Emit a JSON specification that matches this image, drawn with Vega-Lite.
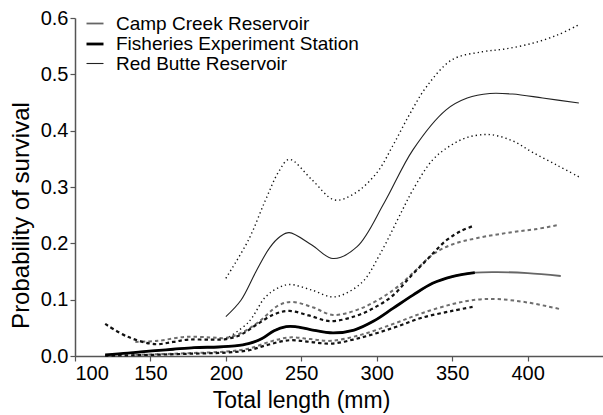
{
  "$schema": "https://vega.github.io/schema/vega-lite/v6.json",
  "width": 528,
  "height": 338,
  "autosize": {"type": "none"},
  "padding": {"left": 75, "top": 18, "right": 0, "bottom": 59},
  "background": "white",
  "config": {
    "font": "Liberation Sans",
    "view": {"stroke": null},
    "axis": {"domainColor": "#555", "tickColor": "#555", "domainWidth": 1.5, "tickWidth": 1.2, "tickSize": 5, "labelColor": "#000", "titleColor": "#000", "grid": false, "labelFontSize": 20, "titleFontWeight": "normal"}
  },
  "datasets": {
    "curves": [
      {"site": "Camp Creek Reservoir", "band": "est", "length": 140, "prob": 0.007},
      {"site": "Camp Creek Reservoir", "band": "est", "length": 151, "prob": 0.009},
      {"site": "Camp Creek Reservoir", "band": "est", "length": 165, "prob": 0.012},
      {"site": "Camp Creek Reservoir", "band": "est", "length": 179, "prob": 0.015},
      {"site": "Camp Creek Reservoir", "band": "est", "length": 195, "prob": 0.016},
      {"site": "Camp Creek Reservoir", "band": "est", "length": 206, "prob": 0.018},
      {"site": "Camp Creek Reservoir", "band": "est", "length": 215, "prob": 0.022},
      {"site": "Camp Creek Reservoir", "band": "est", "length": 224, "prob": 0.031},
      {"site": "Camp Creek Reservoir", "band": "est", "length": 232, "prob": 0.045},
      {"site": "Camp Creek Reservoir", "band": "est", "length": 240, "prob": 0.052},
      {"site": "Camp Creek Reservoir", "band": "est", "length": 246, "prob": 0.052},
      {"site": "Camp Creek Reservoir", "band": "est", "length": 256, "prob": 0.047},
      {"site": "Camp Creek Reservoir", "band": "est", "length": 271, "prob": 0.041},
      {"site": "Camp Creek Reservoir", "band": "est", "length": 285, "prob": 0.046},
      {"site": "Camp Creek Reservoir", "band": "est", "length": 298, "prob": 0.062},
      {"site": "Camp Creek Reservoir", "band": "est", "length": 311, "prob": 0.085},
      {"site": "Camp Creek Reservoir", "band": "est", "length": 324, "prob": 0.108},
      {"site": "Camp Creek Reservoir", "band": "est", "length": 337, "prob": 0.129},
      {"site": "Camp Creek Reservoir", "band": "est", "length": 350, "prob": 0.141},
      {"site": "Camp Creek Reservoir", "band": "est", "length": 365, "prob": 0.148},
      {"site": "Camp Creek Reservoir", "band": "est", "length": 380, "prob": 0.149},
      {"site": "Camp Creek Reservoir", "band": "est", "length": 400, "prob": 0.147},
      {"site": "Camp Creek Reservoir", "band": "est", "length": 422, "prob": 0.142},

      {"site": "Camp Creek Reservoir", "band": "hi", "length": 140, "prob": 0.025},
      {"site": "Camp Creek Reservoir", "band": "hi", "length": 155, "prob": 0.027},
      {"site": "Camp Creek Reservoir", "band": "hi", "length": 173, "prob": 0.034},
      {"site": "Camp Creek Reservoir", "band": "hi", "length": 190, "prob": 0.033},
      {"site": "Camp Creek Reservoir", "band": "hi", "length": 200, "prob": 0.032},
      {"site": "Camp Creek Reservoir", "band": "hi", "length": 211, "prob": 0.042},
      {"site": "Camp Creek Reservoir", "band": "hi", "length": 222, "prob": 0.061},
      {"site": "Camp Creek Reservoir", "band": "hi", "length": 235, "prob": 0.090},
      {"site": "Camp Creek Reservoir", "band": "hi", "length": 244, "prob": 0.096},
      {"site": "Camp Creek Reservoir", "band": "hi", "length": 258, "prob": 0.086},
      {"site": "Camp Creek Reservoir", "band": "hi", "length": 271, "prob": 0.073},
      {"site": "Camp Creek Reservoir", "band": "hi", "length": 290, "prob": 0.085},
      {"site": "Camp Creek Reservoir", "band": "hi", "length": 311, "prob": 0.117},
      {"site": "Camp Creek Reservoir", "band": "hi", "length": 325, "prob": 0.150},
      {"site": "Camp Creek Reservoir", "band": "hi", "length": 337, "prob": 0.180},
      {"site": "Camp Creek Reservoir", "band": "hi", "length": 350, "prob": 0.198},
      {"site": "Camp Creek Reservoir", "band": "hi", "length": 366, "prob": 0.209},
      {"site": "Camp Creek Reservoir", "band": "hi", "length": 390, "prob": 0.220},
      {"site": "Camp Creek Reservoir", "band": "hi", "length": 405, "prob": 0.225},
      {"site": "Camp Creek Reservoir", "band": "hi", "length": 421, "prob": 0.233},

      {"site": "Camp Creek Reservoir", "band": "lo", "length": 140, "prob": 0.002},
      {"site": "Camp Creek Reservoir", "band": "lo", "length": 175, "prob": 0.005},
      {"site": "Camp Creek Reservoir", "band": "lo", "length": 200, "prob": 0.008},
      {"site": "Camp Creek Reservoir", "band": "lo", "length": 215, "prob": 0.013},
      {"site": "Camp Creek Reservoir", "band": "lo", "length": 230, "prob": 0.026},
      {"site": "Camp Creek Reservoir", "band": "lo", "length": 242, "prob": 0.033},
      {"site": "Camp Creek Reservoir", "band": "lo", "length": 256, "prob": 0.030},
      {"site": "Camp Creek Reservoir", "band": "lo", "length": 270, "prob": 0.027},
      {"site": "Camp Creek Reservoir", "band": "lo", "length": 290, "prob": 0.038},
      {"site": "Camp Creek Reservoir", "band": "lo", "length": 311, "prob": 0.057},
      {"site": "Camp Creek Reservoir", "band": "lo", "length": 330, "prob": 0.076},
      {"site": "Camp Creek Reservoir", "band": "lo", "length": 350, "prob": 0.092},
      {"site": "Camp Creek Reservoir", "band": "lo", "length": 366, "prob": 0.100},
      {"site": "Camp Creek Reservoir", "band": "lo", "length": 380, "prob": 0.101},
      {"site": "Camp Creek Reservoir", "band": "lo", "length": 400, "prob": 0.095},
      {"site": "Camp Creek Reservoir", "band": "lo", "length": 422, "prob": 0.083},

      {"site": "Fisheries Experiment Station", "band": "est", "length": 120, "prob": 0.002},
      {"site": "Fisheries Experiment Station", "band": "est", "length": 135, "prob": 0.005},
      {"site": "Fisheries Experiment Station", "band": "est", "length": 151, "prob": 0.009},
      {"site": "Fisheries Experiment Station", "band": "est", "length": 165, "prob": 0.012},
      {"site": "Fisheries Experiment Station", "band": "est", "length": 179, "prob": 0.015},
      {"site": "Fisheries Experiment Station", "band": "est", "length": 195, "prob": 0.016},
      {"site": "Fisheries Experiment Station", "band": "est", "length": 206, "prob": 0.018},
      {"site": "Fisheries Experiment Station", "band": "est", "length": 215, "prob": 0.022},
      {"site": "Fisheries Experiment Station", "band": "est", "length": 224, "prob": 0.031},
      {"site": "Fisheries Experiment Station", "band": "est", "length": 232, "prob": 0.045},
      {"site": "Fisheries Experiment Station", "band": "est", "length": 240, "prob": 0.052},
      {"site": "Fisheries Experiment Station", "band": "est", "length": 246, "prob": 0.052},
      {"site": "Fisheries Experiment Station", "band": "est", "length": 256, "prob": 0.047},
      {"site": "Fisheries Experiment Station", "band": "est", "length": 271, "prob": 0.041},
      {"site": "Fisheries Experiment Station", "band": "est", "length": 285, "prob": 0.046},
      {"site": "Fisheries Experiment Station", "band": "est", "length": 298, "prob": 0.062},
      {"site": "Fisheries Experiment Station", "band": "est", "length": 311, "prob": 0.085},
      {"site": "Fisheries Experiment Station", "band": "est", "length": 324, "prob": 0.108},
      {"site": "Fisheries Experiment Station", "band": "est", "length": 337, "prob": 0.129},
      {"site": "Fisheries Experiment Station", "band": "est", "length": 350, "prob": 0.141},
      {"site": "Fisheries Experiment Station", "band": "est", "length": 365, "prob": 0.148},

      {"site": "Fisheries Experiment Station", "band": "hi", "length": 120, "prob": 0.057},
      {"site": "Fisheries Experiment Station", "band": "hi", "length": 135, "prob": 0.034},
      {"site": "Fisheries Experiment Station", "band": "hi", "length": 153, "prob": 0.021},
      {"site": "Fisheries Experiment Station", "band": "hi", "length": 165, "prob": 0.025},
      {"site": "Fisheries Experiment Station", "band": "hi", "length": 175, "prob": 0.029},
      {"site": "Fisheries Experiment Station", "band": "hi", "length": 190, "prob": 0.029},
      {"site": "Fisheries Experiment Station", "band": "hi", "length": 200, "prob": 0.030},
      {"site": "Fisheries Experiment Station", "band": "hi", "length": 210, "prob": 0.038},
      {"site": "Fisheries Experiment Station", "band": "hi", "length": 220, "prob": 0.055},
      {"site": "Fisheries Experiment Station", "band": "hi", "length": 232, "prob": 0.074},
      {"site": "Fisheries Experiment Station", "band": "hi", "length": 242, "prob": 0.080},
      {"site": "Fisheries Experiment Station", "band": "hi", "length": 255, "prob": 0.072},
      {"site": "Fisheries Experiment Station", "band": "hi", "length": 269, "prob": 0.062},
      {"site": "Fisheries Experiment Station", "band": "hi", "length": 285, "prob": 0.070},
      {"site": "Fisheries Experiment Station", "band": "hi", "length": 298, "prob": 0.085},
      {"site": "Fisheries Experiment Station", "band": "hi", "length": 311, "prob": 0.108},
      {"site": "Fisheries Experiment Station", "band": "hi", "length": 322, "prob": 0.140},
      {"site": "Fisheries Experiment Station", "band": "hi", "length": 333, "prob": 0.170},
      {"site": "Fisheries Experiment Station", "band": "hi", "length": 346, "prob": 0.205},
      {"site": "Fisheries Experiment Station", "band": "hi", "length": 356, "prob": 0.222},
      {"site": "Fisheries Experiment Station", "band": "hi", "length": 364, "prob": 0.231},

      {"site": "Fisheries Experiment Station", "band": "lo", "length": 120, "prob": 0.0005},
      {"site": "Fisheries Experiment Station", "band": "lo", "length": 150, "prob": 0.002},
      {"site": "Fisheries Experiment Station", "band": "lo", "length": 175, "prob": 0.004},
      {"site": "Fisheries Experiment Station", "band": "lo", "length": 200, "prob": 0.006},
      {"site": "Fisheries Experiment Station", "band": "lo", "length": 215, "prob": 0.010},
      {"site": "Fisheries Experiment Station", "band": "lo", "length": 228, "prob": 0.020},
      {"site": "Fisheries Experiment Station", "band": "lo", "length": 242, "prob": 0.028},
      {"site": "Fisheries Experiment Station", "band": "lo", "length": 256, "prob": 0.025},
      {"site": "Fisheries Experiment Station", "band": "lo", "length": 270, "prob": 0.022},
      {"site": "Fisheries Experiment Station", "band": "lo", "length": 290, "prob": 0.033},
      {"site": "Fisheries Experiment Station", "band": "lo", "length": 311, "prob": 0.050},
      {"site": "Fisheries Experiment Station", "band": "lo", "length": 330, "prob": 0.068},
      {"site": "Fisheries Experiment Station", "band": "lo", "length": 350, "prob": 0.080},
      {"site": "Fisheries Experiment Station", "band": "lo", "length": 365, "prob": 0.088},

      {"site": "Red Butte Reservoir", "band": "est", "length": 200, "prob": 0.070},
      {"site": "Red Butte Reservoir", "band": "est", "length": 210, "prob": 0.099},
      {"site": "Red Butte Reservoir", "band": "est", "length": 220, "prob": 0.150},
      {"site": "Red Butte Reservoir", "band": "est", "length": 229, "prob": 0.192},
      {"site": "Red Butte Reservoir", "band": "est", "length": 236, "prob": 0.212},
      {"site": "Red Butte Reservoir", "band": "est", "length": 242, "prob": 0.219},
      {"site": "Red Butte Reservoir", "band": "est", "length": 257, "prob": 0.197},
      {"site": "Red Butte Reservoir", "band": "est", "length": 271, "prob": 0.173},
      {"site": "Red Butte Reservoir", "band": "est", "length": 287, "prob": 0.194},
      {"site": "Red Butte Reservoir", "band": "est", "length": 305, "prob": 0.272},
      {"site": "Red Butte Reservoir", "band": "est", "length": 324, "prob": 0.366},
      {"site": "Red Butte Reservoir", "band": "est", "length": 346, "prob": 0.437},
      {"site": "Red Butte Reservoir", "band": "est", "length": 360, "prob": 0.458},
      {"site": "Red Butte Reservoir", "band": "est", "length": 375, "prob": 0.466},
      {"site": "Red Butte Reservoir", "band": "est", "length": 390, "prob": 0.465},
      {"site": "Red Butte Reservoir", "band": "est", "length": 410, "prob": 0.458},
      {"site": "Red Butte Reservoir", "band": "est", "length": 434, "prob": 0.449},

      {"site": "Red Butte Reservoir", "band": "hi", "length": 200, "prob": 0.138},
      {"site": "Red Butte Reservoir", "band": "hi", "length": 215, "prob": 0.206},
      {"site": "Red Butte Reservoir", "band": "hi", "length": 226, "prob": 0.275},
      {"site": "Red Butte Reservoir", "band": "hi", "length": 235, "prob": 0.327},
      {"site": "Red Butte Reservoir", "band": "hi", "length": 242, "prob": 0.349},
      {"site": "Red Butte Reservoir", "band": "hi", "length": 257, "prob": 0.313},
      {"site": "Red Butte Reservoir", "band": "hi", "length": 272, "prob": 0.277},
      {"site": "Red Butte Reservoir", "band": "hi", "length": 285, "prob": 0.288},
      {"site": "Red Butte Reservoir", "band": "hi", "length": 300, "prob": 0.325},
      {"site": "Red Butte Reservoir", "band": "hi", "length": 311, "prob": 0.375},
      {"site": "Red Butte Reservoir", "band": "hi", "length": 322, "prob": 0.430},
      {"site": "Red Butte Reservoir", "band": "hi", "length": 333, "prob": 0.478},
      {"site": "Red Butte Reservoir", "band": "hi", "length": 350, "prob": 0.526},
      {"site": "Red Butte Reservoir", "band": "hi", "length": 370, "prob": 0.540},
      {"site": "Red Butte Reservoir", "band": "hi", "length": 385, "prob": 0.545},
      {"site": "Red Butte Reservoir", "band": "hi", "length": 403, "prob": 0.555},
      {"site": "Red Butte Reservoir", "band": "hi", "length": 420, "prob": 0.570},
      {"site": "Red Butte Reservoir", "band": "hi", "length": 434, "prob": 0.588},

      {"site": "Red Butte Reservoir", "band": "lo", "length": 200, "prob": 0.030},
      {"site": "Red Butte Reservoir", "band": "lo", "length": 215, "prob": 0.060},
      {"site": "Red Butte Reservoir", "band": "lo", "length": 226, "prob": 0.104},
      {"site": "Red Butte Reservoir", "band": "lo", "length": 234, "prob": 0.120},
      {"site": "Red Butte Reservoir", "band": "lo", "length": 242, "prob": 0.127},
      {"site": "Red Butte Reservoir", "band": "lo", "length": 257, "prob": 0.117},
      {"site": "Red Butte Reservoir", "band": "lo", "length": 272, "prob": 0.105},
      {"site": "Red Butte Reservoir", "band": "lo", "length": 290, "prob": 0.130},
      {"site": "Red Butte Reservoir", "band": "lo", "length": 302, "prob": 0.180},
      {"site": "Red Butte Reservoir", "band": "lo", "length": 317, "prob": 0.259},
      {"site": "Red Butte Reservoir", "band": "lo", "length": 324, "prob": 0.295},
      {"site": "Red Butte Reservoir", "band": "lo", "length": 337, "prob": 0.348},
      {"site": "Red Butte Reservoir", "band": "lo", "length": 348, "prob": 0.372},
      {"site": "Red Butte Reservoir", "band": "lo", "length": 360, "prob": 0.388},
      {"site": "Red Butte Reservoir", "band": "lo", "length": 375, "prob": 0.393},
      {"site": "Red Butte Reservoir", "band": "lo", "length": 390, "prob": 0.382},
      {"site": "Red Butte Reservoir", "band": "lo", "length": 403, "prob": 0.362},
      {"site": "Red Butte Reservoir", "band": "lo", "length": 420, "prob": 0.338},
      {"site": "Red Butte Reservoir", "band": "lo", "length": 434, "prob": 0.318}
    ]
  },
  "data": {"name": "curves"},
  "encoding": {
    "x": {"field": "length", "type": "quantitative", "scale": {"domain": [100, 450], "nice": false}, "axis": {"values": [100, 150, 200, 250, 300, 350, 400], "title": "Total length (mm)", "titleFontSize": 23, "titleX": 226, "titleY": 51, "titleBaseline": "alphabetic", "labelPadding": 2}},
    "y": {"field": "prob", "type": "quantitative", "scale": {"domain": [0, 0.6], "nice": false}, "axis": {"values": [0, 0.1, 0.2, 0.3, 0.4, 0.5, 0.6], "format": ".1f", "title": "Probability of survival", "titleFontSize": 24, "titleX": -54, "titleY": 197, "titleAngle": -90, "titleAlign": "center", "titleBaseline": "middle", "labelPadding": 2}}
  },
  "layer": [
    {
      "transform": [{"filter": "datum.site === 'Camp Creek Reservoir' && datum.band !== 'est'"}],
      "mark": {"type": "line", "interpolate": "catmull-rom", "color": "#6e6e6e", "strokeWidth": 2, "strokeDash": [3.5, 3]},
      "encoding": {"detail": {"field": "band"}}
    },
    {
      "transform": [{"filter": "datum.site === 'Fisheries Experiment Station' && datum.band !== 'est'"}],
      "mark": {"type": "line", "interpolate": "catmull-rom", "color": "#111", "strokeWidth": 2.2, "strokeDash": [3.5, 3]},
      "encoding": {"detail": {"field": "band"}}
    },
    {
      "transform": [{"filter": "datum.site === 'Red Butte Reservoir' && datum.band !== 'est'"}],
      "mark": {"type": "line", "interpolate": "catmull-rom", "color": "#111", "strokeWidth": 1.4, "strokeDash": [1.3, 3]},
      "encoding": {"detail": {"field": "band"}}
    },
    {
      "transform": [{"filter": "datum.band === 'est'"}],
      "mark": {"type": "line", "interpolate": "catmull-rom"},
      "encoding": {
        "color": {"field": "site", "type": "nominal", "scale": {"domain": ["Camp Creek Reservoir", "Fisheries Experiment Station", "Red Butte Reservoir"], "range": ["#666666", "#000000", "#222222"]},
          "legend": {"title": null, "orient": "none", "legendX": 10, "legendY": -4, "symbolType": "stroke", "symbolSize": 289, "labelFontSize": 19, "labelOffset": 11, "rowPadding": 0, "labelColor": "#000", "labelLimit": 400}},
        "strokeWidth": {"field": "site", "type": "nominal", "scale": {"type": "ordinal", "domain": ["Camp Creek Reservoir", "Fisheries Experiment Station", "Red Butte Reservoir"], "range": [1.8, 2.8, 1.1]},
          "legend": {"title": null, "orient": "none", "legendX": 10, "legendY": -4, "symbolType": "stroke", "symbolSize": 289, "labelFontSize": 19, "labelOffset": 11, "rowPadding": 0, "labelColor": "#000", "labelLimit": 400}}
      }
    }
  ]
}
